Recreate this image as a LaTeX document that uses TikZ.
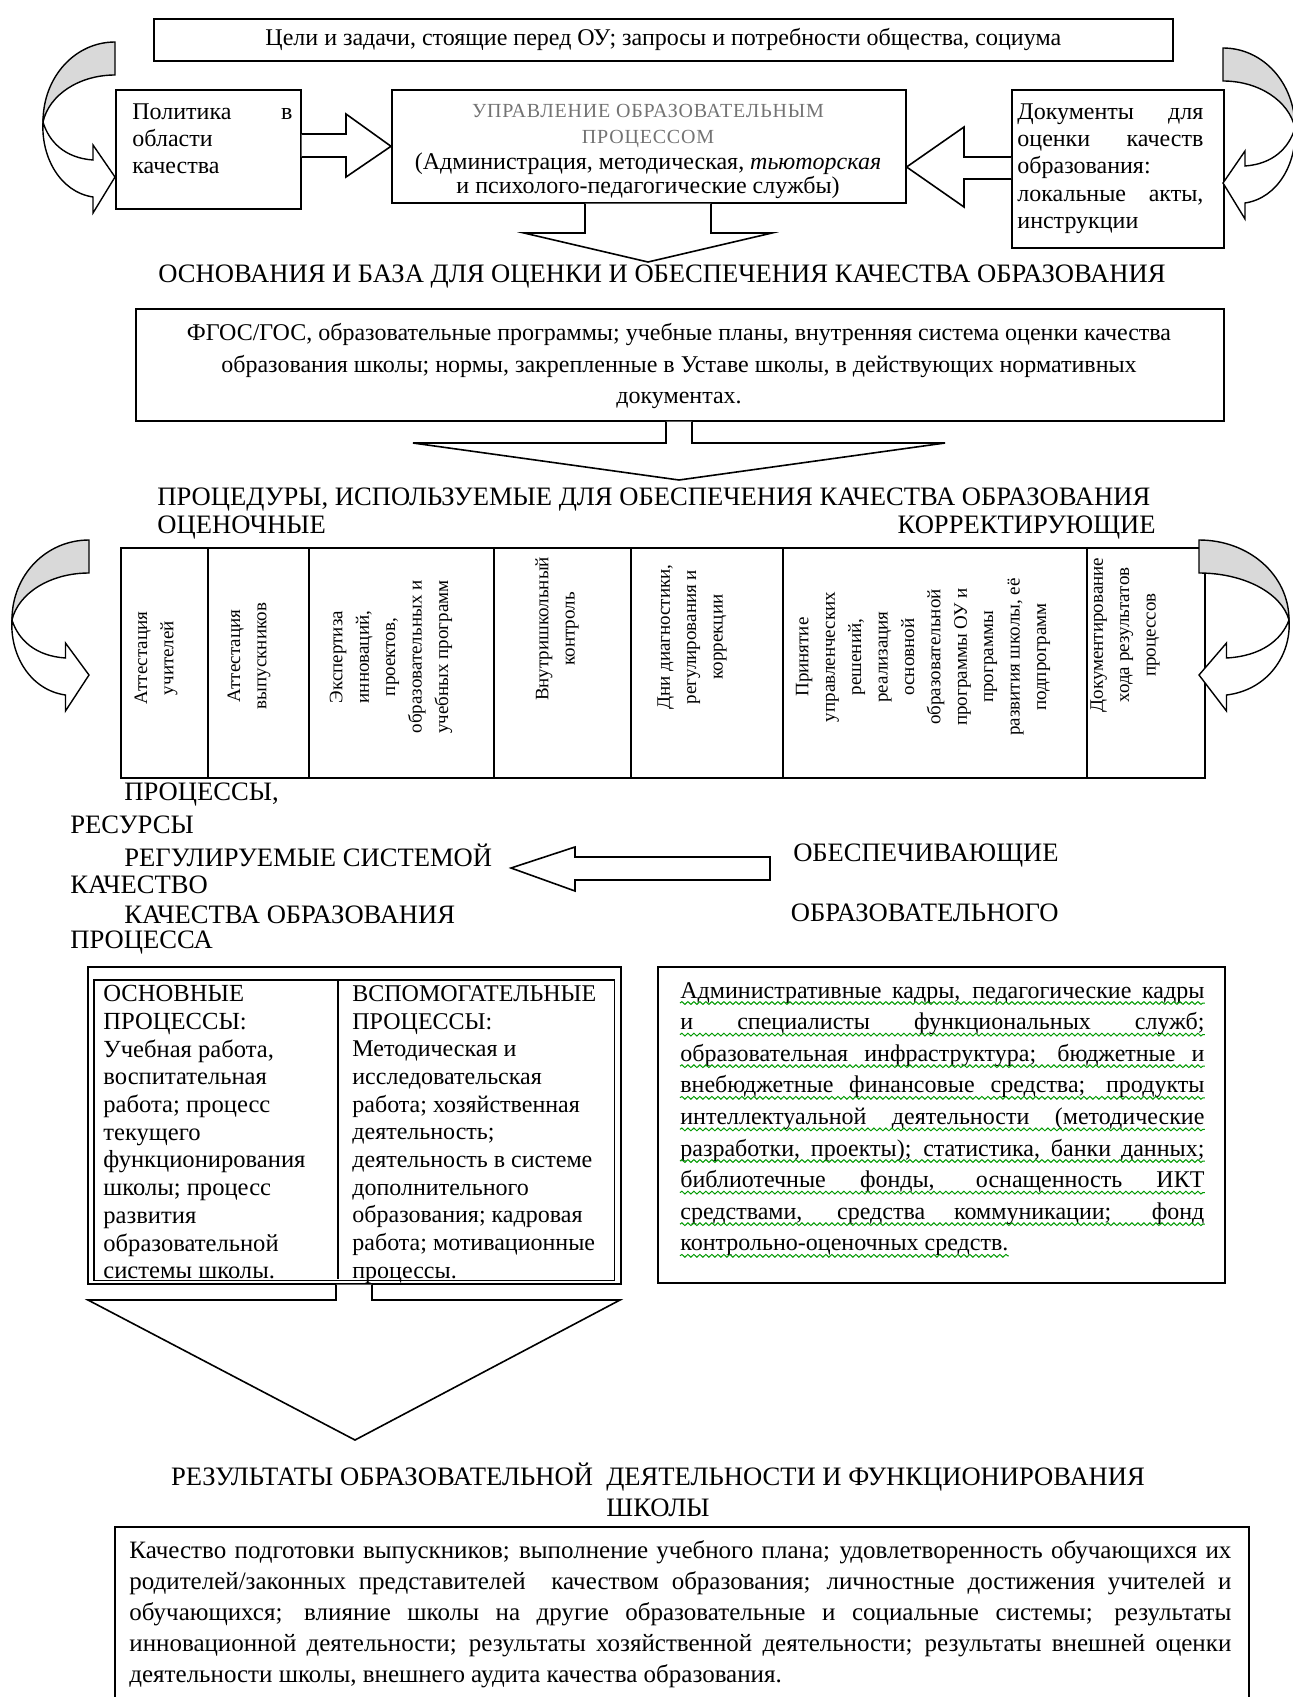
\documentclass[tikz,border=0pt]{standalone}
\usepackage{fontspec}
\setmainfont{Liberation Serif}
\usetikzlibrary{calc,decorations.pathmorphing}

\newlength{\wordw}

\newcommand{\bentarrow}[2]{%
  \begin{scope}[shift={#1},#2]
    \filldraw[fill=gray!30,line width=0.7pt] (0,-135) .. controls (-40,-135) and (-72,-100) .. (-72,-55)
      .. controls (-66,-82) and (-36,-102) .. (0,-102) -- cycle;
    \filldraw[fill=white,line width=0.7pt] (-72,-55) .. controls (-66,-35) and (-50,-19) .. (-22,-17)
      -- (-22,-32) -- (0,0) -- (-22,36) -- (-22,20)
      .. controls (-55,15) and (-74,-20) .. (-72,-55) -- cycle;
  \end{scope}}

\begin{document}
\begin{tikzpicture}[x=0.5pt,y=-0.5pt,
  box/.style={draw,line width=0.8pt,inner sep=0pt,anchor=north west},
  cell/.style={draw,line width=0.8pt,inner sep=0pt,minimum height=115pt,anchor=north west},
  vtext/.style={rotate=90,align=center,inner sep=0pt,font=\fontsize{9.5}{13.2}\selectfont},
  head/.style={inner sep=0pt,font=\fontsize{13.3}{15.5}\selectfont},
  txt/.style={inner sep=0pt,font=\fontsize{12}{13.7}\selectfont},
  graytxt/.style={inner sep=0pt,text=black!55,font=\fontsize{10}{13}\selectfont\addfontfeature{LetterSpace=4}},
  blockarr/.style={draw,fill=white,line width=0.8pt,line join=miter},
  wavy/.style={draw=green!60!black,line width=0.5pt,decorate,
    decoration={snake,amplitude=0.7pt,segment length=3pt}}]

\useasboundingbox (0,0) rectangle (1292,1697);

\node[box,minimum width=509.5pt,minimum height=21pt,font=\fontsize{12}{14}\selectfont] (goals) at (153,18)
  {Цели и задачи, стоящие перед ОУ; запросы и потребности общества, социума};

\node[box,minimum width=92.5pt,minimum height=59.5pt] (polit) at (115,89) {};
\node[txt,anchor=north west,align=left] (politT) at (132,103)
  {\makebox[80pt][s]{Политика в}\\области\\качества};

\node[box,minimum width=257pt,minimum height=56.5pt] (upr) at (391,89) {};
\node[graytxt,anchor=base] (uprA) at (648,117) {УПРАВЛЕНИЕ ОБРАЗОВАТЕЛЬНЫМ};
\node[graytxt,anchor=base] (uprB) at (648,143) {ПРОЦЕССОМ};
\node[txt,anchor=base] (uprC) at (648,169) {(Администрация, методическая, \textit{тьюторская}};
\node[txt,anchor=base] (uprD) at (648,193) {и психолого-педагогические службы)};
\settowidth{\wordw}{\fontsize{12}{13.7}\selectfont\itshape тьюторская}
\draw[wavy,draw=red] ([xshift=-\wordw,yshift=-2.5pt]uprC.base east) -- ([yshift=-2.5pt]uprC.base east);

\node[box,minimum width=106pt,minimum height=79pt] (docs) at (1011,89) {};
\node[txt,anchor=north west,align=left] (docsT) at (1017,103)
  {\makebox[93pt][s]{Документы для}\\\makebox[93pt][s]{оценки качеств}\\образования:\\
   \makebox[93pt][s]{локальные акты,}\\инструкции};

\draw[blockarr] (polit.east |- 0,134) -- (346,134) -- (346,114) -- (upr.west)
  -- (346,177) -- (346,157) -- (polit.east |- 0,157);
\draw[blockarr] (docs.west |- 0,157) -- (964,157) -- (964,127) -- (upr.east |- 0,167)
  -- (964,207) -- (964,179) -- (docs.west |- 0,179);
\draw[blockarr] (585,0 |- upr.south) -- (585,233) -- (524,233) -- (648,262)
  -- (772,233) -- (711,233) -- (711,0 |- upr.south);

\bentarrow{(115,177)}{}
\bentarrow{(1223,183)}{xscale=-1}

\node[head] (baseH) at (662,277) {ОСНОВАНИЯ И БАЗА ДЛЯ ОЦЕНКИ И ОБЕСПЕЧЕНИЯ КАЧЕСТВА ОБРАЗОВАНИЯ};

\node[box,minimum width=544pt,minimum height=56pt] (fgos) at (135,308) {};
\node[align=center,inner sep=0pt,font=\fontsize{12}{15.75}\selectfont] (fgosT) at (679,366)
  {ФГОС/ГОС, образовательные программы; учебные планы, внутренняя система оценки качества\\
   образования школы; нормы, закрепленные в Уставе школы, в действующих нормативных\\
   документах.};

\draw[blockarr] (666,0 |- fgos.south) -- (666,443) -- (413,443) -- (679,480)
  -- (945,443) -- (692,443) -- (692,0 |- fgos.south);

\node[head,anchor=west] (procH) at (157,500) {ПРОЦЕДУРЫ, ИСПОЛЬЗУЕМЫЕ ДЛЯ ОБЕСПЕЧЕНИЯ КАЧЕСТВА ОБРАЗОВАНИЯ};
\node[head,anchor=west] (evalH) at (157,528) {ОЦЕНОЧНЫЕ};
\node[head,anchor=east] (corrH) at (1156,528) {КОРРЕКТИРУЮЩИЕ};

\foreach \xa/\xb/\cx/\cy/\txt [count=\i] in {
  120/207/156/658/{Аттестация\\учителей},
  207/308/249/656/{Аттестация\\выпускников},
  308/493/391/657/{Экспертиза\\инноваций,\\проектов,\\образовательных и\\учебных программ},
  493/630/557/629/{Внутришкольный\\контроль},
  630/782/692/637/{Дни диагностики,\\регулирования и\\коррекции},
  782/1086/923/657/{Принятие\\управленческих\\решений,\\реализация\\основной\\образовательной\\программы ОУ и\\программы\\развития школы, её\\подпрограмм},
  1086/1204/1125/635/{Документирование\\хода результатов\\процессов}}
{
  \node[cell,minimum width={(\xb-\xa)*0.5pt}] (cell\i) at (\xa,547) {};
  \node[vtext] (vt\i) at (\cx,\cy) {\txt};
}

\bentarrow{(89,675)}{xscale=1.07}
\bentarrow{(1199,675)}{xscale=-1.25}

\node[head,anchor=west] (procA) at (124,795) {ПРОЦЕССЫ,};
\node[head,anchor=west] (resA) at (70,825) {РЕСУРСЫ};
\node[head,anchor=west] (procB) at (124,855) {РЕГУЛИРУЕМЫЕ СИСТЕМОЙ};
\settowidth{\wordw}{\fontsize{13.3}{15.5}\selectfont РЕГУЛИРУЕМЫЕ}
\draw[wavy] ([yshift=-2.5pt]procB.base west) -- ([xshift=\wordw,yshift=-2.5pt]procB.base west);
\node[head,anchor=west] (resB) at (70,885) {КАЧЕСТВО};
\node[head,anchor=west] (procC) at (124,915) {КАЧЕСТВА ОБРАЗОВАНИЯ};
\node[head,anchor=west] (resC) at (70,943) {ПРОЦЕССА};
\node[head,anchor=east] (provA) at (1059,856) {ОБЕСПЕЧИВАЮЩИЕ};
\node[head,anchor=east] (provB) at (1059,913) {ОБРАЗОВАТЕЛЬНОГО};

\draw[blockarr] (770,857) -- (575,857) -- (575,847) -- (511,868) -- (575,891)
  -- (575,880) -- (770,880) -- cycle;

\node[box,minimum width=266.5pt,minimum height=158.5pt] (dbl) at (87,966) {};
\draw[line width=0.8pt] ($(dbl.north west)+(7,14)$) rectangle ($(dbl.south east)+(-7,-4)$);
\draw[line width=0.8pt] (338,980) -- (338,1279);
\node[anchor=north west,align=left,inner sep=0pt,font=\fontsize{12.3}{13.85}\selectfont] (mainP) at (103,985)
  {ОСНОВНЫЕ\\ПРОЦЕССЫ:\\Учебная работа,\\воспитательная\\работа; процесс\\текущего\\функционирования\\школы; процесс\\развития\\образовательной\\системы школы.};
\node[anchor=north west,align=left,inner sep=0pt,font=\fontsize{12}{13.85}\selectfont] (auxP) at (352,985)
  {ВСПОМОГАТЕЛЬНЫЕ\\ПРОЦЕССЫ:\\Методическая и\\исследовательская\\работа; хозяйственная\\деятельность;\\деятельность в системе\\дополнительного\\образования; кадровая\\работа; мотивационные\\процессы.};

\node[box,minimum width=283.5pt,minimum height=158pt] (res) at (657,966) {};
\foreach \rline [count=\k from 0] in {
  {Административные кадры, педагогические кадры},
  {и специалисты функциональных служб;},
  {образовательная инфраструктура; бюджетные и},
  {внебюджетные финансовые средства; продукты},
  {интеллектуальной деятельности (методические},
  {разработки, проекты); статистика, банки данных;},
  {библиотечные фонды, оснащенность ИКТ},
  {средствами, средства коммуникации; фонд}}
{
  \node[txt,anchor=base west] (resl\k) at (680,{998+31.6*\k}) {\makebox[262pt][s]{\rline}};
  \draw[wavy] ([yshift=-2.5pt]resl\k.base west) -- ([yshift=-2.5pt]resl\k.base east);
}
\node[txt,anchor=base west] (reslast) at (680,{998+31.6*8}) {контрольно-оценочных средств.};
\draw[wavy] ([yshift=-2.5pt]reslast.base west) -- ([yshift=-2.5pt]reslast.base east);

\draw[blockarr] (336,0 |- dbl.south) -- (336,1300) -- (88,1300) -- (355,1440)
  -- (620,1300) -- (372,1300) -- (372,0 |- dbl.south);

\node[head,align=center] (outH) at (658,1490)
  {РЕЗУЛЬТАТЫ ОБРАЗОВАТЕЛЬНОЙ\ \ ДЕЯТЕЛЬНОСТИ И ФУНКЦИОНИРОВАНИЯ\\ШКОЛЫ};

\node[box,minimum width=567pt,minimum height=100pt] (outc) at (114,1526) {};
\foreach \rline [count=\k from 0] in {
  {Качество подготовки выпускников; выполнение учебного плана; удовлетворенность обучающихся их},
  {родителей/законных представителей\ \ качеством образования; личностные достижения учителей и},
  {обучающихся; влияние школы на другие образовательные и социальные системы; результаты},
  {инновационной деятельности; результаты хозяйственной деятельности; результаты внешней оценки}}
{
  \node[anchor=base west,inner sep=0pt,font=\fontsize{12.5}{16}\selectfont] (outl\k) at (129,{1558+31*\k})
    {\makebox[551pt][s]{\rline}};
}
\node[anchor=base west,inner sep=0pt,font=\fontsize{12.5}{16}\selectfont] (outlast) at (129,{1558+31*4})
  {деятельности школы, внешнего аудита качества образования.};
\end{tikzpicture}
\end{document}
